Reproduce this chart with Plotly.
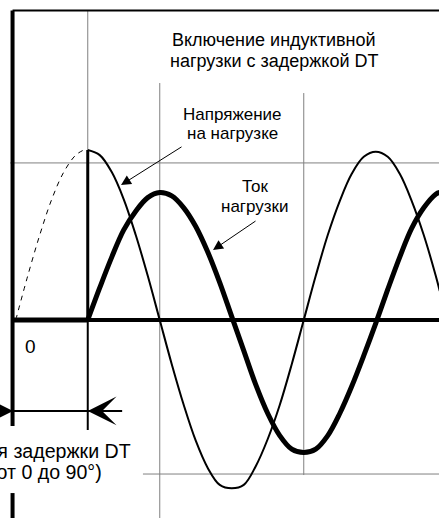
import plotly.graph_objects as go

# %% Data (x in electrical degrees, y in units of voltage amplitude)
DEG_DASH = [0, 15, 30, 45, 60, 75, 85]
VOLT_DASH = [0.0, 0.26, 0.5, 0.71, 0.87, 0.97, 1.0]

DEG = [90, 105, 120, 135, 150, 165, 180, 195, 210, 225, 240, 255, 270, 285, 300, 315,
       330, 345, 360, 375, 390, 405, 420, 435, 450, 465, 480, 495, 510, 525, 530]
VOLT = [1.0, 0.97, 0.87, 0.71, 0.5, 0.26, 0.0, -0.26, -0.5, -0.71, -0.87, -0.97, -0.99, -0.97,
        -0.86, -0.7, -0.5, -0.26, 0.0, 0.26, 0.5, 0.7, 0.86, 0.96, 0.99, 0.96, 0.86, 0.7, 0.5,
        0.26, 0.17]
CURR = [0.0, 0.19, 0.37, 0.53, 0.64, 0.72, 0.75, 0.73, 0.66, 0.55, 0.4, 0.22, 0.02, -0.18,
        -0.38, -0.55, -0.68, -0.76, -0.78, -0.76, -0.68, -0.55, -0.39, -0.21, -0.02, 0.18,
        0.37, 0.54, 0.66, 0.74, 0.75]

SWITCH_DEG = 90          # moment of switching on (voltage peak)
AXIS_DEG = -4            # vertical axis position
X_RANGE = [-19.69, 529.06]
Y_RANGE = [-1.1647, 1.8824]
TOP = 1.82

TITLE_LINES = ["Включение индуктивной", "нагрузки с задержкой DT"]
VOLT_LINES = ["Напряжение", "на нагрузке"]
CURR_LINES = ["Ток", "нагрузки"]
DELAY_LINES = ["Время задержки DT", "(от 0 до 90°)"]

GRAY = "#808080"
FAMILY = "Liberation Sans, Arial, sans-serif"

fig = go.Figure()


def seg(x0, y0, x1, y1, color="black", width=1):
    fig.add_shape(type="line", x0=x0, y0=y0, x1=x1, y1=y1, xref="x", yref="y",
                  line=dict(color=color, width=width), layer="below")


def px_x(p):
    return (p - 15.75) / 0.8


def px_y(p):
    return (320 - p) / 170


def text_block(lines, x, baselines, size, anchor="center"):
    for line, b in zip(lines, baselines):
        fig.add_annotation(x=x, y=px_y(b - 0.3 * size), text=line, showarrow=False,
                           xanchor=anchor, yanchor="middle",
                           font=dict(family=FAMILY, size=size, color="black"))


# %% Thin grid lines
seg(SWITCH_DEG, 1.0, SWITCH_DEG, TOP, GRAY)
seg(180, Y_RANGE[0], 180, 1.394, GRAY)
seg(360, -0.912, 360, 1.335, GRAY)
seg(-7, 0.924, X_RANGE[1], 0.924, GRAY)
seg(159, -0.906, X_RANGE[1], -0.906, GRAY)

# %% Frame: top border, axes, dimension extension lines
seg(AXIS_DEG, TOP, X_RANGE[1], TOP, width=2)
seg(AXIS_DEG, 0, X_RANGE[1], 0, width=4)
seg(AXIS_DEG, TOP, AXIS_DEG, -0.624, width=4)
seg(AXIS_DEG, -1.018, AXIS_DEG, Y_RANGE[0], width=4)
seg(SWITCH_DEG, 0, SWITCH_DEG, -0.647, width=2)
seg(-25, -0.535, 133, -0.535, width=2)

# %% Curves
fig.add_trace(go.Scatter(x=DEG_DASH, y=VOLT_DASH, mode="lines", line_shape="spline",
                         line=dict(color="black", width=1, dash="5px,5px")))
fig.add_trace(go.Scatter(x=[SWITCH_DEG, SWITCH_DEG], y=[0, VOLT[0]], mode="lines",
                         line=dict(color="black", width=3)))
fig.add_trace(go.Scatter(x=DEG, y=VOLT, mode="lines", line_shape="spline",
                         line=dict(color="black", width=2)))
fig.add_trace(go.Scatter(x=[AXIS_DEG, SWITCH_DEG], y=[0, 0], mode="lines",
                         line=dict(color="black", width=5)))
fig.add_trace(go.Scatter(x=DEG, y=CURR, mode="lines", line_shape="spline",
                         line=dict(color="black", width=5)))

# %% Labels
text_block(TITLE_LINES, px_x(274), [45, 66], 18)
text_block(VOLT_LINES, px_x(232.5), [120, 139], 17)
text_block(CURR_LINES, px_x(255), [192, 212], 17)
text_block(["0"], px_x(30.5), [352], 19)
text_block(DELAY_LINES[:1], px_x(133), [457], 19.6, anchor="right")
text_block(DELAY_LINES[1:], px_x(104), [478], 19.6, anchor="right")

# %% Arrows
arrow = dict(text="", showarrow=True, axref="x", ayref="y", arrowcolor="black", standoff=0)
fig.add_annotation(x=131.6, y=0.794, ax=209.1, ay=1.024, arrowhead=2, arrowsize=2,
                   arrowwidth=1, **arrow)
fig.add_annotation(x=246.6, y=0.412, ax=301.6, ay=0.588, arrowhead=2, arrowsize=2,
                   arrowwidth=1, **arrow)
fig.add_annotation(x=SWITCH_DEG, y=-0.535, ax=133, ay=-0.535, arrowhead=3, arrowsize=2.4,
                   arrowwidth=2, **arrow)
fig.add_annotation(x=-3.4, y=-0.535, ax=-30, ay=-0.535, arrowhead=3, arrowsize=2.4,
                   arrowwidth=2, **arrow)

fig.update_xaxes(range=X_RANGE, visible=False, fixedrange=True)
fig.update_yaxes(range=Y_RANGE, visible=False, fixedrange=True)
fig.update_layout(
    width=439,
    height=518,
    margin=dict(l=0, r=0, t=0, b=0),
    paper_bgcolor="white",
    plot_bgcolor="white",
    showlegend=False,
    hovermode=False,
)
# page body has a default 8px margin; drop it so the figure fills the window
fig.write_html("out.html", config={"displayModeBar": False},
               post_script="document.body.style.margin = '0';")
